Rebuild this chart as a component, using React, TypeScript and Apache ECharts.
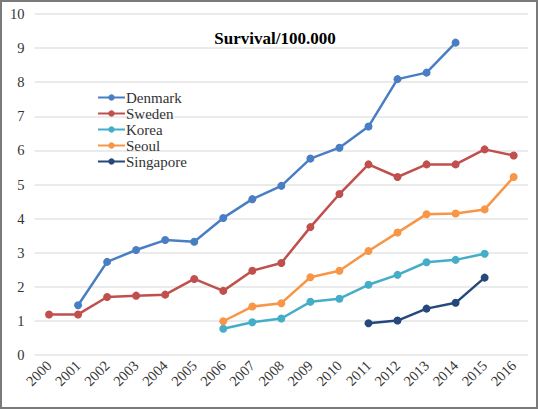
import React, { useEffect, useRef } from "react";
import * as echarts from "echarts";

const years = ["2000","2001","2002","2003","2004","2005","2006","2007","2008","2009","2010","2011","2012","2013","2014","2015","2016"];
const denmark = [null, 1.46, 2.73, 3.08, 3.37, 3.32, 4.02, 4.57, 4.96, 5.76, 6.08, 6.70, 8.09, 8.28, 9.16, null, null];
const sweden = [1.19, 1.19, 1.70, 1.74, 1.77, 2.23, 1.88, 2.47, 2.70, 3.75, 4.72, 5.59, 5.22, 5.59, 5.59, 6.03, 5.85];
const korea = [null, null, null, null, null, null, 0.77, 0.96, 1.07, 1.56, 1.65, 2.06, 2.35, 2.72, 2.79, 2.97, null];
const seoul = [null, null, null, null, null, null, 0.99, 1.42, 1.52, 2.28, 2.47, 3.05, 3.59, 4.13, 4.15, 4.27, 5.22];
const singapore = [null, null, null, null, null, null, null, null, null, null, null, 0.93, 1.01, 1.36, 1.53, 2.27, null];

const seriesDefs = [
  { name: "Denmark", data: denmark, color: "#4a7ec4" },
  { name: "Sweden", data: sweden, color: "#c0504d" },
  { name: "Korea", data: korea, color: "#44adc8" },
  { name: "Seoul", data: seoul, color: "#f79646" },
  { name: "Singapore", data: singapore, color: "#24497a" },
];

const FONT = "'Liberation Serif', 'Times New Roman', serif";

export default function App() {
  const ref = useRef<HTMLDivElement>(null);
  useEffect(() => {
    document.body.style.margin = "0";
    const chart = echarts.init(ref.current!, null, { renderer: "svg" });
    chart.setOption({
      animation: false,
      backgroundColor: "#ffffff",
      title: {
        text: "Survival/100.000",
        left: 270,
        top: 25,
        textAlign: "center",
        textStyle: { fontFamily: FONT, fontSize: 17, fontWeight: "bold", color: "#000" },
      },
      legend: {
        orient: "vertical",
        left: 92,
        top: 85,
        itemWidth: 27,
        itemHeight: 8,
        itemGap: 1,
        textStyle: { fontFamily: FONT, fontSize: 15, color: "#333", padding: [0, 0, 0, -4] },
        data: seriesDefs.map((s) => s.name),
      },
      grid: { left: 34.5, right: 9.8, top: 14, bottom: 54, containLabel: false },
      xAxis: {
        type: "category",
        data: years,
        boundaryGap: true,
        axisLine: { show: false },
        axisTick: { show: false },
        axisLabel: {
          rotate: 45,
          margin: 8,
          fontFamily: FONT,
          fontSize: 14.5,
          color: "#333",
          interval: 0,
        },
      },
      yAxis: {
        type: "value",
        min: 0,
        max: 10,
        interval: 1,
        axisLine: { show: false },
        axisTick: { show: false },
        splitLine: { lineStyle: { color: "#e4e4e4", width: 1.5 } },
        axisLabel: { fontFamily: FONT, fontSize: 14.5, color: "#333", margin: 10 },
      },
      series: seriesDefs.map((s) => ({
        name: s.name,
        type: "line",
        data: s.data,
        connectNulls: false,
        symbol: "circle",
        symbolSize: 8,
        color: s.color,
        lineStyle: { width: 2.5, color: s.color },
        itemStyle: { color: s.color },
      })),
    });
    return () => chart.dispose();
  }, []);
  return (
    <div style={{ position: "relative", width: 538, height: 409 }}>
      <div ref={ref} style={{ width: 538, height: 409 }} />
      <div
        style={{
          position: "absolute",
          left: 0,
          top: 0,
          width: 538,
          height: 409,
          boxSizing: "border-box",
          border: "2px solid #7a7a7a",
          pointerEvents: "none",
        }}
      />
    </div>
  );
}
